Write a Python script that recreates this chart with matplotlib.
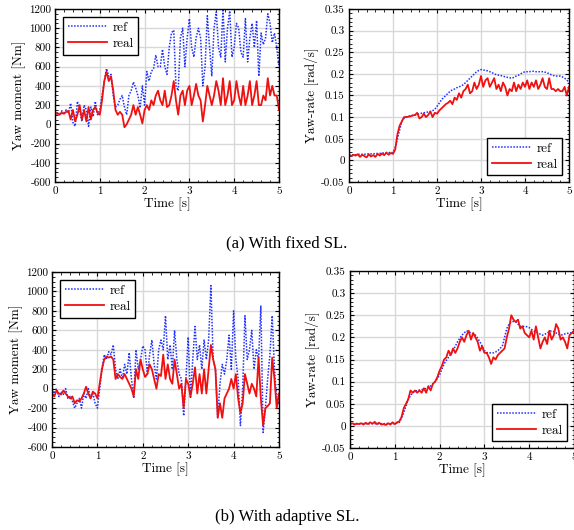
import numpy as np
import matplotlib
matplotlib.use("Agg")
import matplotlib.pyplot as plt
from matplotlib.ticker import AutoMinorLocator, MultipleLocator

plt.rcParams['font.family'] = ['cmr10', 'DejaVu Serif']
plt.rcParams['axes.unicode_minus'] = False
plt.rcParams['mathtext.fontset'] = 'cm'

t = np.linspace(0, 5, 101)

# (a) fixed SL - yaw moment
a_mom_ref = [130, 110, 100, 140, 120, 150, 120, 220, 20, -20,
             240, 150, 30, 200, 150, -20, 180, 80, 240, 100,
             150, 300, 450, 580, 500, 520, 300, 180, 200, 260,
             300, 180, 100, 300, 350, 440, 380, 300, 170, 400,
             200, 550, 450, 550, 580, 720, 600, 600, 780, 600,
             520, 800, 950, 980, 400, 350, 900, 1000, 600, 900,
             1100, 800, 700, 900, 1000, 900, 400, 600, 1130, 800,
             500, 1000, 1170, 800, 700, 1200, 650, 1000, 1180, 700,
             800, 1050, 1000, 750, 700, 1100, 650, 900, 1050, 800,
             1080, 500, 950, 830, 900, 1150, 1050, 850, 950, 800,
             600]
a_mom_real = [100, 120, 100, 120, 110, 130, 140, 50, 150, 30,
              100, 200, 50, 150, 30, 180, 50, 150, 180, 120,
              100, 250, 450, 550, 450, 500, 350, 150, 100, 130,
              100, -30, 0, 50, 100, 200, 100, 180, 100, 10,
              150, 200, 150, 250, 200, 300, 350, 250, 200, 350,
              180, 200, 300, 450, 250, 100, 300, 350, 200, 350,
              400, 200, 300, 420, 300, 250, 30, 200, 400, 300,
              200, 300, 450, 350, 200, 480, 200, 300, 450, 200,
              250, 450, 300, 200, 400, 200, 300, 450, 200, 300,
              450, 200, 200, 300, 250, 480, 300, 400, 300, 300,
              150]

# (a) fixed SL - yaw rate
a_rate_ref = [0.013, 0.013, 0.013, 0.013, 0.014, 0.014, 0.014, 0.014, 0.015, 0.015,
              0.015, 0.015, 0.016, 0.016, 0.016, 0.017, 0.017, 0.018, 0.018, 0.018,
              0.018, 0.030, 0.050, 0.070, 0.090, 0.097, 0.100, 0.102, 0.103, 0.104,
              0.105, 0.106, 0.108, 0.109, 0.110, 0.111, 0.112, 0.113, 0.115, 0.118,
              0.125, 0.132, 0.140, 0.145, 0.150, 0.155, 0.160, 0.163, 0.165, 0.168,
              0.170, 0.172, 0.175, 0.180, 0.185, 0.190, 0.195, 0.200, 0.205, 0.208,
              0.210, 0.209, 0.208, 0.207, 0.205, 0.203, 0.200, 0.198, 0.197, 0.196,
              0.195, 0.193, 0.192, 0.191, 0.190, 0.192, 0.195, 0.197, 0.200, 0.203,
              0.205, 0.205, 0.205, 0.206, 0.206, 0.205, 0.205, 0.205, 0.205, 0.204,
              0.203, 0.200, 0.198, 0.196, 0.195, 0.195, 0.195, 0.193, 0.190, 0.186,
              0.180]
a_rate_real = [0.012, 0.010, 0.013, 0.011, 0.014, 0.008, 0.013, 0.010, 0.007, 0.014,
               0.009, 0.012, 0.008, 0.015, 0.011, 0.016, 0.012, 0.018, 0.013, 0.017,
               0.015, 0.025, 0.060, 0.080, 0.090, 0.100, 0.100, 0.101, 0.102, 0.104,
               0.105, 0.110, 0.097, 0.100, 0.108, 0.100, 0.105, 0.113, 0.100, 0.110,
               0.108, 0.115, 0.120, 0.125, 0.130, 0.133, 0.138, 0.130, 0.145, 0.140,
               0.155, 0.145, 0.160, 0.165, 0.175, 0.155, 0.160, 0.180, 0.165, 0.175,
               0.195, 0.170, 0.185, 0.190, 0.170, 0.180, 0.190, 0.165, 0.175, 0.160,
               0.180, 0.170, 0.150, 0.165, 0.160, 0.180, 0.160, 0.175, 0.165, 0.180,
               0.170, 0.185, 0.165, 0.180, 0.170, 0.185, 0.165, 0.175, 0.190, 0.170,
               0.165, 0.190, 0.165, 0.165, 0.160, 0.165, 0.160, 0.160, 0.170, 0.150,
               0.170]

# (b) adaptive SL - yaw moment
b_mom_ref = [0, -50, 0, -80, -30, -60, 0, -100, -80, -130,
             -200, -150, -100, -200, -50, -100, 0, -100, -50, -150,
             -200, 0, 200, 350, 300, 380, 350, 450, 200, 100,
             200, 100, 250, 150, 370, 100, -100, 400, 200, 300,
             440, 400, 150, 350, 500, 250, 100, 400, 500, 400,
             750, 300, 450, 200, 600, 300, 150, 100, -280, 100,
             530, -100, 300, 640, 300, 450, 200, 500, 300, 500,
             1060, 300, 200, -300, 50, 250, 150, 300, 550, 200,
             800, 300, 100, -380, 0, 750, 300, 400, 600, 200,
             400, 300, 850, -450, -200, 100, 350, 750, 200, -100,
             -150]
b_mom_real = [-50, -80, -20, -50, -60, -20, -50, -80, -100, -80,
              -150, -120, -130, -100, -50, 20, -50, -100, -30, -50,
              -100, 50, 200, 300, 330, 320, 330, 300, 100, 150,
              120, 100, 150, 100, 50, 0, -80, 200, 100, 300,
              200, 120, 150, 250, 200, 100, 0, 150, 130, 350,
              100, 250, 100, 50, 300, 150, 0, 50, -200, 100,
              50, -80, 50, 220, -50, 150, -50, 200, -50, 200,
              450, 300, 200, -300, -150, -300, -100, -50, 0, 100,
              0, 150, -100, -250, -150, 150, 50, -50, 50, 0,
              -80, 320, -100, -380, -200, -180, -150, 320, 100, -200,
              -50]

# (b) adaptive SL - yaw rate
b_rate_ref = [0.005, 0.005, 0.005, 0.005, 0.005, 0.005, 0.005, 0.005, 0.005, 0.005,
              0.005, 0.005, 0.005, 0.005, 0.005, 0.005, 0.005, 0.005, 0.005, 0.005,
              0.005, 0.006, 0.008, 0.018, 0.030, 0.045, 0.060, 0.068, 0.075, 0.078,
              0.080, 0.081, 0.082, 0.083, 0.085, 0.087, 0.090, 0.095, 0.100, 0.107,
              0.115, 0.128, 0.140, 0.148, 0.155, 0.162, 0.170, 0.180, 0.190, 0.198,
              0.205, 0.210, 0.215, 0.213, 0.210, 0.207, 0.205, 0.198, 0.190, 0.180,
              0.170, 0.166, 0.165, 0.165, 0.165, 0.167, 0.170, 0.175, 0.180, 0.200,
              0.220, 0.230, 0.235, 0.236, 0.235, 0.230, 0.225, 0.225, 0.225, 0.224,
              0.222, 0.218, 0.215, 0.212, 0.210, 0.207, 0.205, 0.207, 0.210, 0.213,
              0.215, 0.213, 0.210, 0.207, 0.205, 0.206, 0.208, 0.209, 0.210, 0.210,
              0.210]
b_rate_real = [0.004, 0.006, 0.003, 0.005, 0.004, 0.006, 0.003, 0.007, 0.004, 0.008,
               0.005, 0.009, 0.004, 0.007, 0.003, 0.004, 0.002, 0.006, 0.003, 0.008,
               0.004, 0.008, 0.010, 0.020, 0.040, 0.050, 0.060, 0.080, 0.075, 0.080,
               0.075, 0.080, 0.075, 0.085, 0.075, 0.090, 0.080, 0.095, 0.100, 0.110,
               0.125, 0.135, 0.150, 0.155, 0.170, 0.160, 0.175, 0.165, 0.175, 0.190,
               0.200, 0.190, 0.205, 0.215, 0.195, 0.210, 0.200, 0.190, 0.170, 0.180,
               0.165, 0.165, 0.155, 0.140, 0.155, 0.150, 0.160, 0.165, 0.170, 0.175,
               0.200, 0.220, 0.250, 0.240, 0.235, 0.240, 0.220, 0.225, 0.210, 0.205,
               0.200, 0.215, 0.195, 0.225, 0.200, 0.175, 0.190, 0.200, 0.185, 0.215,
               0.195, 0.205, 0.230, 0.220, 0.195, 0.200, 0.190, 0.175, 0.205, 0.210,
               0.215]

W, H = 574, 530
fig = plt.figure(figsize=(W / 100, H / 100), dpi=100)


def make_ax(l, r, top, bot):
    return fig.add_axes([l / W, 1 - bot / H, (r - l) / W, (bot - top) / H])


ax_tl = make_ax(55, 279, 9, 182)
ax_tr = make_ax(349, 569, 9, 182)
ax_bl = make_ax(52, 279, 272, 447)
ax_br = make_ax(350, 574, 271, 448)

blue = '#1f2fff'
red = '#f01010'


def style(ax, moment):
    ax.set_xlim(0, 5)
    ax.xaxis.set_major_locator(MultipleLocator(1))
    ax.xaxis.set_minor_locator(AutoMinorLocator(5))
    if moment:
        ax.set_ylim(-600, 1200)
        ax.yaxis.set_major_locator(MultipleLocator(200))
        ax.yaxis.set_minor_locator(AutoMinorLocator(4))
        ax.set_ylabel('Yaw moment [Nm]', fontsize=9.5, labelpad=2)
    else:
        ax.set_ylim(-0.05, 0.35)
        ax.set_yticks(np.arange(-0.05, 0.351, 0.05))
        ax.set_yticklabels(['-0.05', '0', '0.05', '0.1', '0.15', '0.2', '0.25', '0.3', '0.35'])
        ax.yaxis.set_minor_locator(AutoMinorLocator(5))
        ax.set_ylabel('Yaw-rate [rad/s]', fontsize=9.5, labelpad=2)
    ax.set_xlabel('Time [s]', fontsize=9.5, labelpad=1)
    ax.grid(True, which='major', color='#d8d8d8', linewidth=1.0)
    ax.set_axisbelow(True)
    ax.tick_params(which='both', direction='in', top=True, right=True, labelsize=8, pad=3)
    ax.tick_params(which='major', length=3, width=0.8)
    ax.tick_params(which='minor', length=1.8, width=0.6)
    for s in ax.spines.values():
        s.set_linewidth(1.0)


for ax, ref, real, moment, loc in [
        (ax_tl, a_mom_ref, a_mom_real, True, 'upper left'),
        (ax_tr, a_rate_ref, a_rate_real, False, 'lower right'),
        (ax_bl, b_mom_ref, b_mom_real, True, 'upper left'),
        (ax_br, b_rate_ref, b_rate_real, False, 'lower right')]:
    ax.plot(t, ref, color=blue, linestyle=(0, (1, 1)), linewidth=1.1, label='ref')
    ax.plot(t, real, color=red, linestyle='-', linewidth=1.3, label='real')
    style(ax, moment)
    leg = ax.legend(loc=loc, fontsize=9.5, frameon=True, fancybox=False,
                    edgecolor='black', framealpha=1, handlelength=3.0,
                    borderpad=0.35, labelspacing=0.3, handletextpad=0.4,
                    borderaxespad=0.6 if moment else 0.5)
    leg.get_frame().set_linewidth(1.0)

fig.text(0.5, 1 - 243 / H, '(a) With fixed SL.', ha='center', va='center',
         fontsize=12, family=['Liberation Serif'])
fig.text(0.5, 1 - 517 / H, '(b) With adaptive SL.', ha='center', va='center',
         fontsize=12, family=['Liberation Serif'])

fig.savefig('out.png', dpi=100)
